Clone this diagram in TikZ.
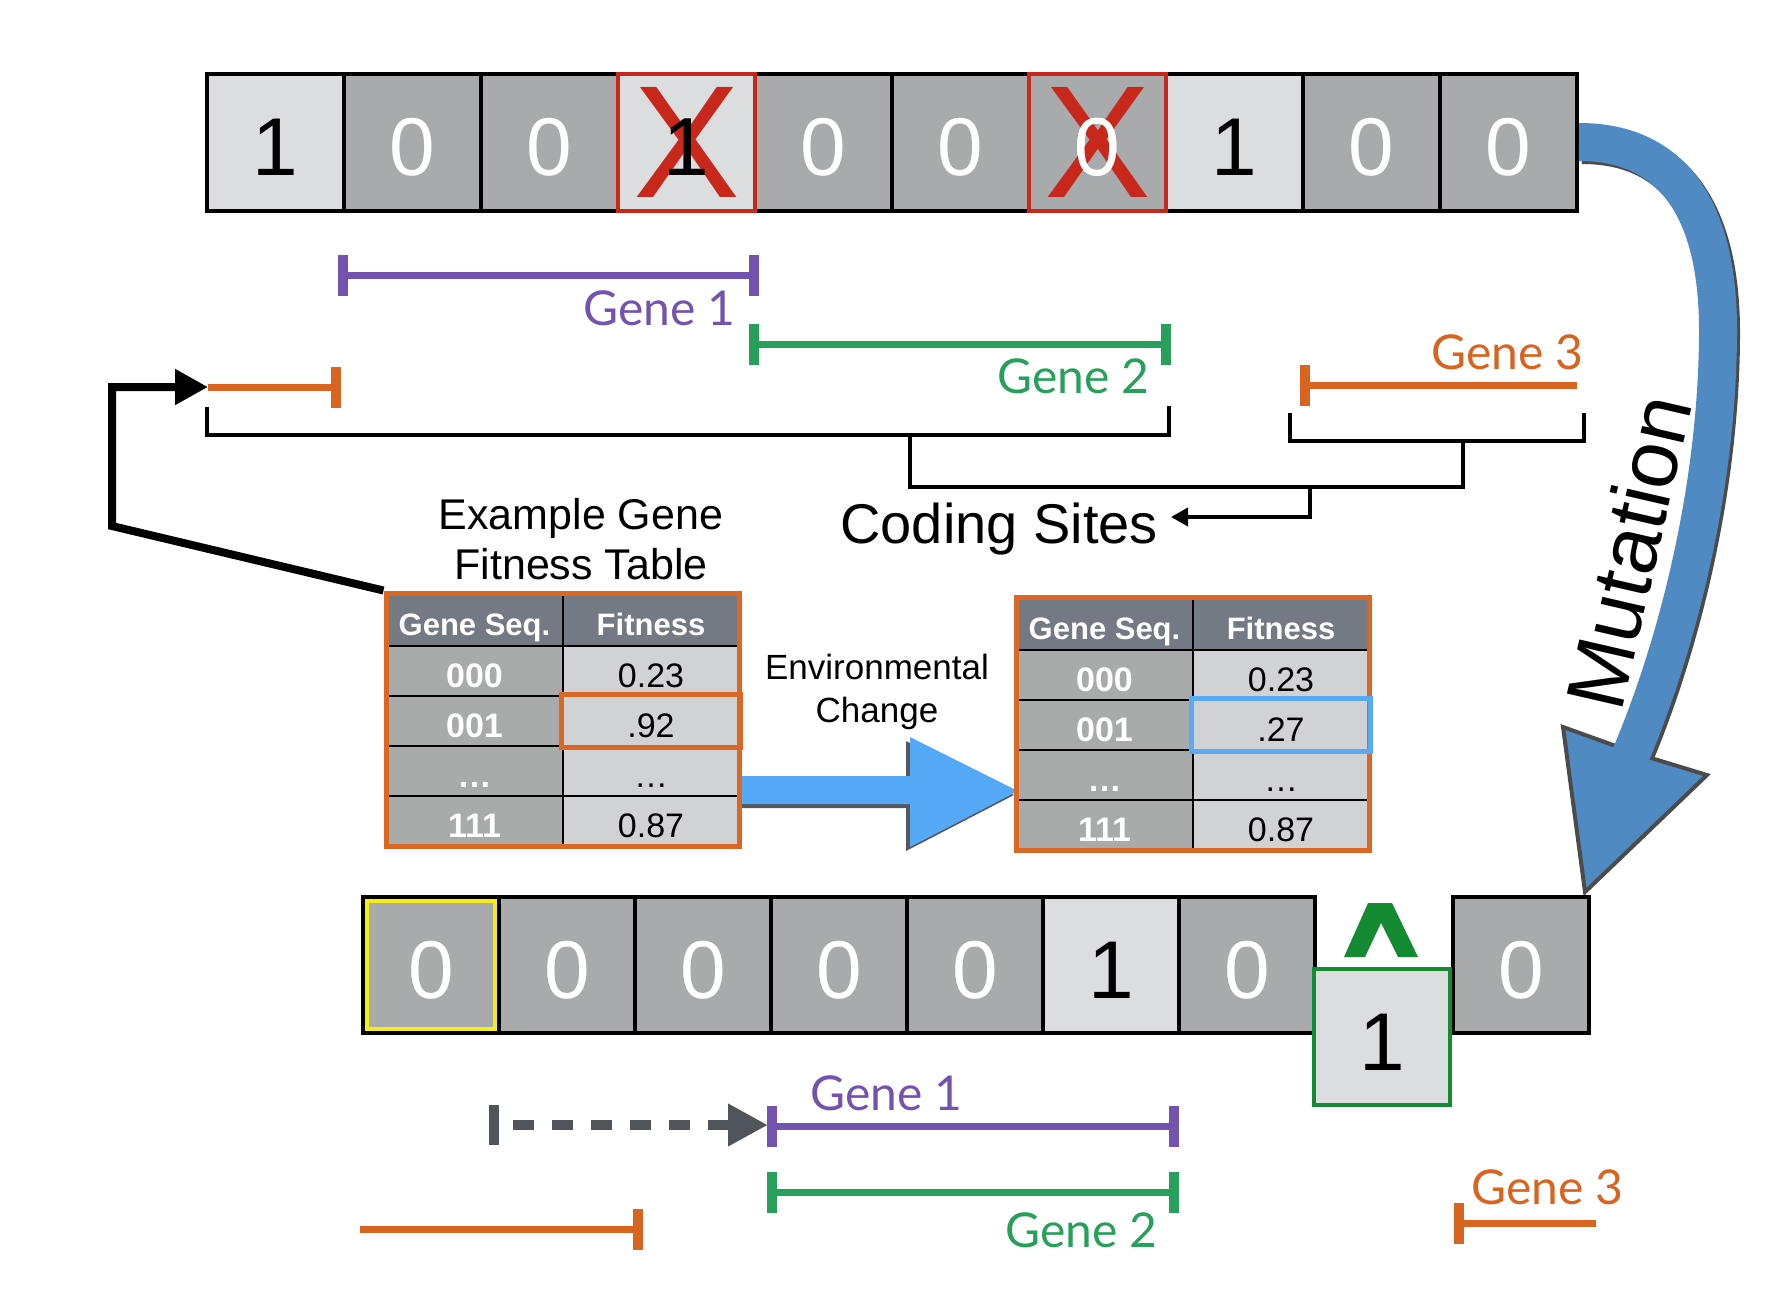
\documentclass[tikz,border=0pt]{standalone}
\usepackage{fontspec}
\setmainfont{Liberation Sans}
\newfontfamily\genefont{Lato}
\usetikzlibrary{arrows.meta,positioning,calc}

\definecolor{celllight}{HTML}{DCDDDF}
\definecolor{celldark}{HTML}{A9AAAB}
\definecolor{tabhead}{HTML}{737A84}
\definecolor{tableft}{HTML}{A9AAAA}
\definecolor{tabright}{HTML}{D1D2D4}
\definecolor{tabfr}{HTML}{DA6824}
\definecolor{genepurple}{HTML}{7453B0}
\definecolor{genegreen}{HTML}{27A05B}
\definecolor{geneorange}{HTML}{D9641F}
\definecolor{insgreen}{HTML}{148A33}
\definecolor{xred}{HTML}{C8281C}
\definecolor{envblue}{HTML}{56A9F6}
\definecolor{envshadow}{HTML}{55595E}
\definecolor{mutblue}{HTML}{4F8AC2}
\definecolor{mutshadow}{HTML}{4B4B4B}
\definecolor{hlyellow}{HTML}{F4EC1B}
\definecolor{hlblue}{HTML}{59AAF4}
\definecolor{dashgray}{HTML}{50555B}

\tikzset{
  bit/.style={draw=black, line width=4pt, minimum size=137pt, inner sep=0pt, outer sep=0pt,
    text height=67pt, text depth=0pt, font=\fontsize{82}{90}\selectfont},
  bit1/.style={bit, fill=celllight, text=black},
  bit0/.style={bit, fill=celldark, text=white},
  xmark/.style={text=xred, inner sep=0pt, font=\fontsize{160}{160}\selectfont},
  gbar/.tip={Bar[width=41pt, line width'=10pt]},
  gene/.style={line width=7pt},
  genelabel/.style={inner sep=0pt, font=\genefont\fontsize{48}{52}\selectfont},
  bracket/.style={line width=4pt},
  tabcell/.style={draw=black, line width=2.5pt, inner sep=0pt, text depth=0pt},
  headcell/.style={tabcell, fill=tabhead, text=white, minimum height=53pt, text height=31pt,
    font=\bfseries\fontsize{31}{34}\selectfont},
  seqcell/.style={tabcell, fill=tableft, text=white, minimum width=177pt, minimum height=50pt,
    text height=32pt, font=\bfseries\fontsize{34}{36}\selectfont},
  fitcell/.style={tabcell, fill=tabright, text=black, minimum width=176pt, minimum height=50pt,
    text height=32pt, font=\fontsize{34}{36}\selectfont},
  tabframe/.style={draw=tabfr, line width=5pt, minimum width=353pt, minimum height=253pt, inner sep=0pt}
}

\begin{document}
\begin{tikzpicture}[x=1pt, y=-1pt]
    \useasboundingbox (0,0) rectangle (1776,1294);

    % Top genome
    \foreach \v [count=\i] in {1,0,0,1,0,0,0,1,0,0} {
        \node[bit\v] (t\i) at ({207+137*(\i-0.5)},142) {\v};
    }

    % Crossed out sites
    \foreach \i/\v in {4/1,7/0} {
        \node[xmark] (x\i) at (t\i) {X};
        \node[bit\v, fill=none, draw=none] (d\i) at (t\i) {\v};
        \draw[xred, line width=4pt] (t\i.south west) rectangle (t\i.north east);
    }

    % Mutation arrow
    \draw[mutshadow, line width=38pt, shift={(3,3)}] (1579,142) .. controls (1680,142) and (1718,220) .. (1718,330)
        .. controls (1718,480) and (1680,640) .. (1629,759);
    \filldraw[fill=mutblue, draw=mutshadow, line width=4pt] (1585,892) -- (1563,727) -- (1613,745)
        -- (1651,758) -- (1707,775) -- cycle;
    \draw[mutblue, line width=38pt] ($(t10.east)+(2,0)$) .. controls (1680,142) and (1718,220) .. (1718,330)
        .. controls (1718,480) and (1680,640) .. (1629,759);
    \node[rotate=77, inner sep=0pt, font=\fontsize{83}{90}\selectfont] (mut) at (1628,552) {Mutation};

    % Genes on top genome
    \draw[gene, genepurple, gbar-gbar] (338,275) -- (759,275);
    \node[genelabel, genepurple, anchor=base east] (g1top) at (736,325) {Gene 1};
    \draw[gene, genegreen, gbar-gbar] (749,344) -- (1171,344);
    \node[genelabel, genegreen, anchor=base east] (g2top) at (1150,393) {Gene 2};
    \draw[gene, geneorange, gbar-] (1300,385) -- (1577,385);
    \node[genelabel, geneorange, anchor=base east] (g3top) at (1584,369) {Gene 3};
    \coordinate (og1) at (208,387);
    \draw[gene, geneorange, -gbar] (og1) -- (341,387);

    % Coding sites brackets
    \draw[bracket] (207,407) |- (1169,435) -- (1169,406);
    \draw[bracket] (1290,413) |- (1584,441) -- (1584,413);
    \draw[bracket] (910,435) |- (1463,487) -- (1463,441);
    \coordinate (csend) at (1171,517);
    \draw[bracket, -{Triangle[length=17pt, width=18pt]}] (1310,487) |- (csend);
    \node[inner sep=0pt, anchor=base east, font=\fontsize{56}{60}\selectfont] (coding) at (1158,543) {Coding Sites};

    % Table title
    \node[inner sep=0pt, anchor=north, align=center, font=\fontsize{43}{50}\selectfont] (title) at (581,498)
        {Example Gene\\Fitness Table};

    % Environmental change arrow
    \foreach \c/\dx/\dy in {envshadow/-4/4, envblue/0/0} {
        \fill[\c, shift={(\dx,\dy)}] (739,776) -- (910,776) -- (910,737) -- (1018,791) -- (910,847)
            -- (910,804) -- (739,804) -- cycle;
    }
    \node[inner sep=0pt, anchor=north, align=center, font=\fontsize{35}{43}\selectfont] (env) at (877,654)
        {Environmental\\Change};

    % Fitness tables
    \foreach \tx/\ty/\val/\hl/\n in {386/593/.92/tabfr/ltab, 1016/597/.27/hlblue/rtab} {
        \node[headcell, minimum width=177pt] (\n-h1) at (\tx+88.5,\ty+26.5) {Gene Seq.};
        \node[headcell, minimum width=176pt] (\n-h2) at (\tx+265,\ty+26.5) {Fitness};
        \foreach \s/\f [count=\r] in {000/0.23, 001/\val, \ldots/\ldots, 111/0.87} {
            \node[seqcell] (\n-s\r) at (\tx+88.5,\ty+28+50*\r) {\s};
            \node[fitcell] (\n-f\r) at (\tx+265,\ty+28+50*\r) {\f};
        }
        \node[tabframe] (\n) at (\tx+176.5,\ty+126.5) {};
        \draw[\hl, line width=5pt] (\n-f2.south west) rectangle (\n-f2.north east);
    }

    % Feedback to coding site
    \draw[line width=8pt, -{Triangle[length=33pt, width=34pt]}] (ltab.north west) -- (112,526) -- (112,387) -- (og1);

    % Bottom genome
    \foreach \v [count=\i] in {0,0,0,0,0,1,0} {
        \node[bit\v, minimum size=136pt] (b\i) at ({363+136*(\i-0.5)},965) {\v};
    }
    \node[bit0, minimum size=136pt] (b9) at (1521,965) {0};
    \node[bit1, minimum size=136pt, draw=insgreen] (b8) at (1382,1037) {1};
    \draw[hlyellow, line width=4pt] ($(b1.south west)+(4,-4)$) rectangle ($(b1.north east)+(-4,4)$);
    \fill[insgreen] (1344,957) -- (1368,903) -- (1392,903) -- (1418,957) -- (1398,957) -- (1381,923)
        -- (1365,957) -- cycle;

    % Genes on bottom genome
    \draw[dashgray, line width=10pt] (494,1105) -- (494,1145);
    \draw[dashgray, line width=10pt, dash pattern=on 21pt off 18pt, -{Triangle[length=40pt, width=40pt]}]
        (513,1125) -- (768,1125);
    \draw[gene, genepurple, gbar-gbar] (767,1126) -- (1179,1126);
    \node[genelabel, genepurple, anchor=base west] (g1bot) at (810,1110) {Gene 1};
    \draw[gene, genegreen, gbar-gbar] (767,1192) -- (1179,1192);
    \node[genelabel, genegreen, anchor=base east] (g2bot) at (1158,1247) {Gene 2};
    \draw[gene, geneorange, -gbar] (360,1229) -- (643,1229);
    \draw[gene, geneorange, gbar-] (1454,1223) -- (1596,1223);
    \node[genelabel, geneorange, anchor=base west] (g3bot) at (1471,1204) {Gene 3};
\end{tikzpicture}
\end{document}
